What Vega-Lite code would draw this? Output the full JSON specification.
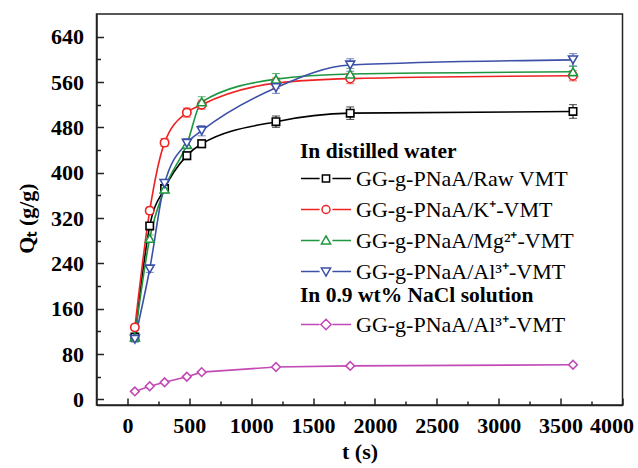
{
  "$schema": "https://vega.github.io/schema/vega-lite/v6.json",
  "width": 526,
  "height": 391,
  "autosize": {"type": "none"},
  "padding": {"left": 96.5, "top": 14, "right": 15.5, "bottom": 63},
  "config": {
    "view": {"stroke": "#222", "strokeWidth": 1.5},
    "font": "Liberation Serif"
  },
  "datasets": {
    "water": [
      {"series": "GG-g-PNaA/Raw VMT", "t": 60, "q": 110, "lo": 106, "hi": 114},
      {"series": "GG-g-PNaA/Raw VMT", "t": 180, "q": 306, "lo": 301, "hi": 311},
      {"series": "GG-g-PNaA/Raw VMT", "t": 300, "q": 372, "lo": 366, "hi": 378},
      {"series": "GG-g-PNaA/Raw VMT", "t": 480, "q": 430, "lo": 423, "hi": 437},
      {"series": "GG-g-PNaA/Raw VMT", "t": 600, "q": 451, "lo": 444, "hi": 458},
      {"series": "GG-g-PNaA/Raw VMT", "t": 1200, "q": 490, "lo": 480, "hi": 500},
      {"series": "GG-g-PNaA/Raw VMT", "t": 1800, "q": 505, "lo": 494, "hi": 516},
      {"series": "GG-g-PNaA/Raw VMT", "t": 3600, "q": 508, "lo": 496, "hi": 520},
      {"series": "GG-g-PNaA/K⁺-VMT", "t": 60, "q": 127, "lo": 122, "hi": 132},
      {"series": "GG-g-PNaA/K⁺-VMT", "t": 180, "q": 333, "lo": 327, "hi": 339},
      {"series": "GG-g-PNaA/K⁺-VMT", "t": 300, "q": 453, "lo": 446, "hi": 460},
      {"series": "GG-g-PNaA/K⁺-VMT", "t": 480, "q": 506, "lo": 498, "hi": 514},
      {"series": "GG-g-PNaA/K⁺-VMT", "t": 600, "q": 520, "lo": 512, "hi": 528},
      {"series": "GG-g-PNaA/K⁺-VMT", "t": 1200, "q": 558, "lo": 549, "hi": 567},
      {"series": "GG-g-PNaA/K⁺-VMT", "t": 1800, "q": 566, "lo": 557, "hi": 575},
      {"series": "GG-g-PNaA/K⁺-VMT", "t": 3600, "q": 571, "lo": 562, "hi": 580},
      {"series": "GG-g-PNaA/Mg²⁺-VMT", "t": 60, "q": 110, "lo": 105, "hi": 115},
      {"series": "GG-g-PNaA/Mg²⁺-VMT", "t": 180, "q": 284, "lo": 278, "hi": 290},
      {"series": "GG-g-PNaA/Mg²⁺-VMT", "t": 300, "q": 371, "lo": 364, "hi": 378},
      {"series": "GG-g-PNaA/Mg²⁺-VMT", "t": 480, "q": 450, "lo": 442, "hi": 458},
      {"series": "GG-g-PNaA/Mg²⁺-VMT", "t": 600, "q": 525, "lo": 516, "hi": 534},
      {"series": "GG-g-PNaA/Mg²⁺-VMT", "t": 1200, "q": 565, "lo": 555, "hi": 575},
      {"series": "GG-g-PNaA/Mg²⁺-VMT", "t": 1800, "q": 574, "lo": 564, "hi": 584},
      {"series": "GG-g-PNaA/Mg²⁺-VMT", "t": 3600, "q": 578, "lo": 568, "hi": 588},
      {"series": "GG-g-PNaA/Al³⁺-VMT", "t": 60, "q": 106, "lo": 101, "hi": 111},
      {"series": "GG-g-PNaA/Al³⁺-VMT", "t": 180, "q": 230, "lo": 224, "hi": 236},
      {"series": "GG-g-PNaA/Al³⁺-VMT", "t": 300, "q": 381, "lo": 374, "hi": 388},
      {"series": "GG-g-PNaA/Al³⁺-VMT", "t": 480, "q": 452, "lo": 444, "hi": 460},
      {"series": "GG-g-PNaA/Al³⁺-VMT", "t": 600, "q": 474, "lo": 465, "hi": 483},
      {"series": "GG-g-PNaA/Al³⁺-VMT", "t": 1200, "q": 550, "lo": 540, "hi": 560},
      {"series": "GG-g-PNaA/Al³⁺-VMT", "t": 1800, "q": 590, "lo": 579, "hi": 601},
      {"series": "GG-g-PNaA/Al³⁺-VMT", "t": 3600, "q": 599, "lo": 588, "hi": 610}
    ],
    "nacl": [
      {"series": "GG-g-PNaA/Al³⁺-VMT", "t": 60, "q": 14, "lo": 12, "hi": 16},
      {"series": "GG-g-PNaA/Al³⁺-VMT", "t": 180, "q": 23, "lo": 21, "hi": 25},
      {"series": "GG-g-PNaA/Al³⁺-VMT", "t": 300, "q": 30, "lo": 28, "hi": 32},
      {"series": "GG-g-PNaA/Al³⁺-VMT", "t": 480, "q": 40, "lo": 38, "hi": 42},
      {"series": "GG-g-PNaA/Al³⁺-VMT", "t": 600, "q": 48, "lo": 46, "hi": 50},
      {"series": "GG-g-PNaA/Al³⁺-VMT", "t": 1200, "q": 57, "lo": 55, "hi": 59},
      {"series": "GG-g-PNaA/Al³⁺-VMT", "t": 1800, "q": 59, "lo": 57, "hi": 61},
      {"series": "GG-g-PNaA/Al³⁺-VMT", "t": 3600, "q": 61, "lo": 59, "hi": 63}
    ]
  },
  "layer": [
    {
      "data": {"name": "water"},
      "encoding": {
        "x": {
          "field": "t", "type": "quantitative",
          "scale": {"domain": [-250, 4000], "nice": false, "zero": false},
          "axis": {
            "title": "t (s)", "values": [0, 500, 1000, 1500, 2000, 2500, 3000, 3500, 4000], "format": "d",
            "grid": false, "tickSize": -7, "tickWidth": 1.5, "tickColor": "#222",
            "domainColor": "#222", "domainWidth": 1.5,
            "labelFont": "Liberation Serif", "labelFontSize": 22, "labelFontWeight": "bold", "labelColor": "black",
            "labelPadding": 17, "labelFlush": true, "labelFlushOffset": 11, "labelOverlap": false,
            "titleFont": "Liberation Serif", "titleFontSize": 22, "titleFontWeight": "bold", "titleColor": "black",
            "titlePadding": 5
          }
        },
        "y": {
          "field": "q", "type": "quantitative",
          "scale": {"domain": [-10, 680], "nice": false, "zero": false},
          "axis": {
            "title": "Qₜ (g/g)", "values": [0, 80, 160, 240, 320, 400, 480, 560, 640],
            "grid": false, "tickSize": -7, "tickWidth": 1.5, "tickColor": "#222",
            "domainColor": "#222", "domainWidth": 1.5,
            "labelFont": "Liberation Serif", "labelFontSize": 22, "labelFontWeight": "bold", "labelColor": "black",
            "labelPadding": 20, "labelFlush": false, "labelOverlap": false,
            "titleFont": "Liberation Serif", "titleFontSize": 22, "titleFontWeight": "bold", "titleColor": "black",
            "titlePadding": 12, "titleY": 204
          }
        },
        "color": {
          "field": "series", "type": "nominal",
          "scale": {
            "domain": ["GG-g-PNaA/Raw VMT", "GG-g-PNaA/K⁺-VMT", "GG-g-PNaA/Mg²⁺-VMT", "GG-g-PNaA/Al³⁺-VMT"],
            "range": ["#000000", "#ee2222", "#1e9640", "#3c50a8"]
          },
          "legend": {
            "title": "In distilled water",
            "orient": "none", "legendX": 203.5, "legendY": 127, "padding": 0,
            "titleFont": "Liberation Serif", "titleFontSize": 21.5, "titleFontWeight": "bold", "titleColor": "black", "titlePadding": 5, "titleLimit": 0,
            "labelFont": "Liberation Serif", "labelFontSize": 22, "labelColor": "black", "labelOffset": 34, "labelLimit": 0,
            "symbolSize": 16, "symbolStrokeWidth": 1.5, "symbolFillColor": "white", "rowPadding": 9,
            "encode": {
              "symbols": {
                "update": {
                  "fill": {"value": "white"},
                  "shape": {"signal": "['M-5,0H4.3M10.7,0H20M5.7,-1.8H9.3V1.8H5.7Z','M-5,0H4.3M10.7,0H20M9.5,0A2,2,0,1,1,5.5,0A2,2,0,1,1,9.5,0Z','M-5,0H4.3M10.7,0H20M7.5,-2.3L9.8,1.7L5.2,1.7Z','M-5,0H4.3M10.7,0H20M7.5,2.3L9.8,-1.7L5.2,-1.7Z'][datum.index]"}
                }
              }
            }
          }
        }
      },
      "layer": [
        {
          "mark": {"type": "line", "interpolate": "monotone", "strokeWidth": 1.6}
        },
        {
          "mark": {"type": "rule", "strokeWidth": 1},
          "encoding": {
            "y": {"field": "lo", "type": "quantitative"},
            "y2": {"field": "hi"}
          }
        },
        {
          "mark": {"type": "point", "shape": "stroke", "filled": false, "strokeWidth": 1, "size": 64},
          "encoding": {"y": {"field": "lo", "type": "quantitative"}}
        },
        {
          "mark": {"type": "point", "shape": "stroke", "filled": false, "strokeWidth": 1, "size": 64},
          "encoding": {"y": {"field": "hi", "type": "quantitative"}}
        },
        {
          "transform": [{"filter": {"field": "series", "equal": "GG-g-PNaA/Raw VMT"}}],
          "mark": {"type": "point", "shape": "square", "filled": false, "fill": "white", "fillOpacity": 1, "opacity": 1, "strokeWidth": 1.6, "size": 55}
        },
        {
          "transform": [{"filter": {"field": "series", "equal": "GG-g-PNaA/K⁺-VMT"}}],
          "mark": {"type": "point", "shape": "circle", "filled": false, "fill": "white", "fillOpacity": 1, "opacity": 1, "strokeWidth": 1.6, "size": 70}
        },
        {
          "transform": [{"filter": {"field": "series", "equal": "GG-g-PNaA/Mg²⁺-VMT"}}],
          "mark": {"type": "point", "shape": "triangle-up", "filled": false, "fill": "white", "fillOpacity": 1, "opacity": 1, "strokeWidth": 1.6, "size": 80}
        },
        {
          "transform": [{"filter": {"field": "series", "equal": "GG-g-PNaA/Al³⁺-VMT"}}],
          "mark": {"type": "point", "shape": "triangle-down", "filled": false, "fill": "white", "fillOpacity": 1, "opacity": 1, "strokeWidth": 1.6, "size": 80}
        }
      ]
    },
    {
      "data": {"name": "nacl"},
      "encoding": {
        "x": {
          "field": "t", "type": "quantitative",
          "axis": {
            "orient": "bottom", "title": null, "labels": false, "domain": false, "grid": false,
            "values": [250, 750, 1250, 1750, 2250, 2750, 3250, 3750],
            "tickSize": -4, "tickWidth": 1.5, "tickColor": "#222"
          }
        },
        "y": {
          "field": "q", "type": "quantitative",
          "axis": {
            "orient": "left", "title": null, "labels": false, "domain": false, "grid": false,
            "values": [40, 120, 200, 280, 360, 440, 520, 600],
            "tickSize": -4, "tickWidth": 1.5, "tickColor": "#222"
          }
        },
        "color": {
          "field": "series", "type": "nominal",
          "scale": {"domain": ["GG-g-PNaA/Al³⁺-VMT"], "range": ["#c34ab6"]},
          "legend": {
            "title": "In 0.9 wt% NaCl solution",
            "orient": "none", "legendX": 203.5, "legendY": 271, "padding": 0,
            "titleFont": "Liberation Serif", "titleFontSize": 21.5, "titleFontWeight": "bold", "titleColor": "black", "titlePadding": 7, "titleLimit": 0,
            "labelFont": "Liberation Serif", "labelFontSize": 22, "labelColor": "black", "labelOffset": 34, "labelLimit": 0,
            "symbolSize": 16, "symbolStrokeWidth": 1.5, "symbolFillColor": "white",
            "encode": {
              "symbols": {
                "update": {
                  "fill": {"value": "white"},
                  "shape": {"value": "M-5,0H4.3M10.7,0H20M7.5,-2.6L10.1,0L7.5,2.6L4.9,0Z"}
                }
              }
            }
          }
        }
      },
      "layer": [
        {
          "mark": {"type": "line", "strokeWidth": 1.6}
        },
        {
          "mark": {"type": "point", "shape": "diamond", "filled": false, "fill": "white", "fillOpacity": 1, "opacity": 1, "strokeWidth": 1.6, "size": 75}
        }
      ]
    }
  ],
  "resolve": {
    "scale": {"color": "independent"},
    "axis": {"x": "independent", "y": "independent"}
  }
}
